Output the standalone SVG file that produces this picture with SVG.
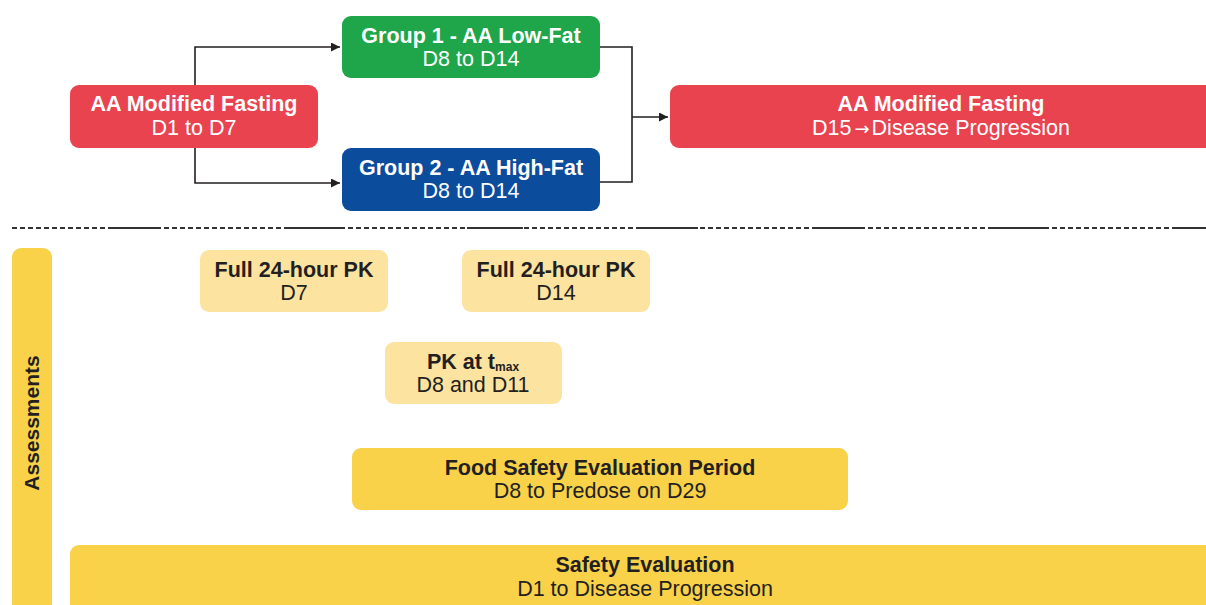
<svg xmlns="http://www.w3.org/2000/svg" width="1206" height="605" viewBox="0 0 1206 605">
<defs>
<style>
.t{font-family:"Liberation Sans",Arial,sans-serif;font-size:21.5px;text-anchor:middle}
.b{font-weight:bold}
.w{fill:#ffffff}
.k{fill:#231f20}
.red{fill:#e8434f}
.grn{fill:#1fa64a}
.blu{fill:#0b4c9d}
.pale{fill:#fde3a0}
.yel{fill:#f9d24a}
.conn{fill:none;stroke:#231f20;stroke-width:1.6}
.sep{stroke:#333;stroke-width:2}
.ar{font-family:"DejaVu Sans",sans-serif;font-size:18px}
</style>
<marker id="arr" viewBox="0 0 10 10" refX="10" refY="5" markerWidth="9" markerHeight="9" markerUnits="userSpaceOnUse" orient="auto">
<path d="M0,0 L10,5 L0,10 z" fill="#231f20"/>
</marker>
</defs>
<rect width="1206" height="605" fill="#ffffff"/>

<g id="connectors">
<path class="conn" d="M195,86 V47 H340" marker-end="url(#arr)"/>
<path class="conn" d="M195,147 V183 H340" marker-end="url(#arr)"/>
<path class="conn" d="M600,47 H632 V182 H600"/>
<path class="conn" d="M632,117 H668" marker-end="url(#arr)"/>
</g>

<g id="separator">
<line class="sep" x1="12" y1="228" x2="1206" y2="228" stroke-dasharray="5,3"/>
<line class="sep" x1="110" y1="228" x2="158" y2="228"/>
<line class="sep" x1="285" y1="228" x2="343" y2="228"/>
<line class="sep" x1="467" y1="228" x2="523" y2="228"/>
<line class="sep" x1="640" y1="228" x2="698" y2="228"/>
<line class="sep" x1="815" y1="228" x2="863" y2="228"/>
<line class="sep" x1="990" y1="228" x2="1047" y2="228"/>
<line class="sep" x1="1172" y1="228" x2="1206" y2="228"/>
</g>

<g id="fasting1">
<rect class="red" x="70" y="85" width="248" height="63" rx="9"/>
<text class="t b w" x="194" y="111">AA Modified Fasting</text>
<text class="t w" x="194" y="135">D1 to D7</text>
</g>

<g id="group1">
<rect class="grn" x="342" y="16" width="258" height="62" rx="9"/>
<text class="t b w" x="471" y="43">Group 1 - AA Low-Fat</text>
<text class="t w" x="471" y="66">D8 to D14</text>
</g>

<g id="group2">
<rect class="blu" x="342" y="148" width="258" height="63" rx="9"/>
<text class="t b w" x="471" y="175">Group 2 - AA High-Fat</text>
<text class="t w" x="471" y="198">D8 to D14</text>
</g>

<g id="fasting2">
<rect class="red" x="670" y="85" width="550" height="63" rx="9"/>
<text class="t b w" x="941" y="111">AA Modified Fasting</text>
<text class="t w" x="941" y="135">D15<tspan class="ar" dx="3">→</tspan><tspan dx="2">Disease Progression</tspan></text>
</g>

<g id="assessments">
<rect class="yel" x="12" y="248" width="40" height="370" rx="9"/>
<text class="t b k" transform="translate(39,423) rotate(-90)" x="0" y="0" style="font-size:21px">Assessments</text>
</g>

<g id="pk-d7">
<rect class="pale" x="200" y="250" width="188" height="62" rx="9"/>
<text class="t b k" x="294" y="277">Full 24-hour PK</text>
<text class="t k" x="294" y="300">D7</text>
</g>

<g id="pk-d14">
<rect class="pale" x="462" y="250" width="188" height="62" rx="9"/>
<text class="t b k" x="556" y="277">Full 24-hour PK</text>
<text class="t k" x="556" y="300">D14</text>
</g>

<g id="pk-tmax">
<rect class="pale" x="385" y="342" width="177" height="62" rx="9"/>
<text class="t b k" x="473" y="369">PK at t<tspan style="font-size:12px" dy="2">max</tspan></text>
<text class="t k" x="473" y="392">D8 and D11</text>
</g>

<g id="food-safety">
<rect class="yel" x="352" y="448" width="496" height="62" rx="9"/>
<text class="t b k" x="600" y="475">Food Safety Evaluation Period</text>
<text class="t k" x="600" y="498">D8 to Predose on D29</text>
</g>

<g id="safety">
<rect class="yel" x="70" y="545" width="1150" height="75" rx="9"/>
<text class="t b k" x="645" y="572">Safety Evaluation</text>
<text class="t k" x="645" y="596">D1 to Disease Progression</text>
</g>
</svg>
